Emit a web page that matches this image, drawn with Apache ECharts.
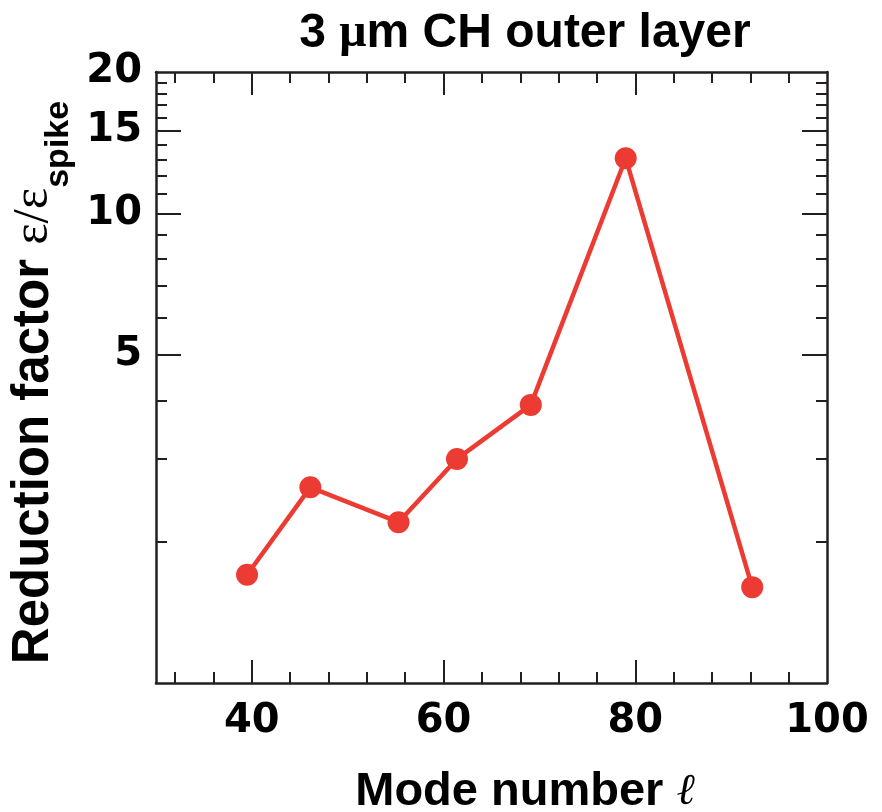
<!DOCTYPE html>
<html>
<head>
<meta charset="utf-8">
<script src="https://cdn.jsdelivr.net/npm/echarts@6/dist/echarts.min.js"></script>
<style>
  html, body { margin: 0; padding: 0; background: #fff; }
  #chart { width: 882px; height: 812px; }
</style>
</head>
<body>
<div id="chart"></div>
<script>
// Reduction factor versus mode number for the 3 um CH outer layer
const modeNumbers = [39.5, 46.1, 55.3, 61.4, 69.1, 79.0, 92.2];
const reductionFactor = [1.70, 2.61, 2.20, 3.00, 3.91, 13.1, 1.60];

// Axis ranges and tick values
const xRange = [30, 100];
const xLabelValues = [40, 60, 80, 100];
const xMajorTicks = [40, 60, 80];
const xMinorTicks = [32, 36, 44, 48, 52, 56, 64, 68, 72, 76, 84, 88, 92, 96];

const yRange = [1, 20];
const yLabelValues = [5, 10, 15, 20];
const yMajorTicks = [5, 10, 15];
const yMinorTicks = [2, 3, 4, 6, 7, 8, 9, 11, 12, 13, 14, 16, 17, 18, 19];

const INK = '#231f20';
const RED = '#ec3b32';
const SANS = 'Liberation Sans';
const SERIF = 'Liberation Serif';

const tickLabelStyle = {
  fontFamily: 'DejaVu Sans', fontWeight: 'bold', fontSize: 40, color: '#000'
};

function xAxisDef(position, ticks, len, withLine, withLabels) {
  return {
    type: 'value', min: xRange[0], max: xRange[1], position: position,
    axisLine: { show: withLine, lineStyle: { color: INK, width: 2.5 } },
    axisTick: { show: true, inside: true, length: len, customValues: ticks,
                lineStyle: { color: INK, width: 2 } },
    axisLabel: withLabels
      ? Object.assign({ show: true, customValues: xLabelValues, margin: 19 }, tickLabelStyle)
      : { show: false },
    splitLine: { show: false }
  };
}

function yAxisDef(position, ticks, len, withLine, withLabels) {
  return {
    type: 'log', logBase: 10, min: yRange[0], max: yRange[1], position: position,
    axisLine: { show: withLine, lineStyle: { color: INK, width: 2.5 } },
    axisTick: { show: true, inside: true, length: len, customValues: ticks,
                lineStyle: { color: INK, width: 2 } },
    axisLabel: withLabels
      ? Object.assign({ show: true, customValues: yLabelValues, margin: 14 }, tickLabelStyle)
      : { show: false },
    splitLine: { show: false }
  };
}

const xMain = xAxisDef('bottom', xMajorTicks, 23, true, true);
xMain.name = '{t|Mode number }{l|\u2113}';
xMain.nameLocation = 'middle';
xMain.nameGap = 86;
xMain.nameTextStyle = {
  padding: [0, 0, 0, 67],
  rich: {
    t: { fontFamily: SANS, fontWeight: 'bold', fontSize: 47, color: '#000' },
    l: { fontFamily: 'DejaVu Serif', fontStyle: 'italic', fontSize: 44, color: '#000' }
  }
};

// y-axis title; the "spike" subscript is lowered with top padding
const yMain = yAxisDef('left', yMajorTicks, 25, true, true);
yMain.name = '{t|Reduction factor }{e|\u03b5/\u03b5}{s|spike}';
yMain.nameLocation = 'middle';
yMain.nameRotate = 90;
yMain.nameGap = 79;
yMain.nameTextStyle = {
  padding: [0, 10, 0, 0],
  rich: {
    t: { fontFamily: SANS, fontWeight: 'bold', fontSize: 51, color: '#000',
         lineHeight: 53, verticalAlign: 'top' },
    e: { fontFamily: SERIF, fontSize: 51, color: '#000',
         lineHeight: 53, verticalAlign: 'top' },
    s: { fontFamily: SANS, fontWeight: 'bold', fontSize: 34, color: '#000',
         lineHeight: 34, padding: [33, 0, 0, 0], verticalAlign: 'top' }
  }
};

const chart = echarts.init(document.getElementById('chart'), null, { renderer: 'canvas' });

chart.setOption({
  animation: false,
  backgroundColor: '#fff',
  title: {
    text: '{t|3 }{mu|\u03bc}{t|m CH outer layer}',
    left: 520, top: 5, textAlign: 'center',
    textStyle: {
      rich: {
        t: { fontFamily: SANS, fontWeight: 'bold', fontSize: 48, color: '#000' },
        mu: { fontFamily: SERIF, fontSize: 48, color: '#000' }
      }
    }
  },
  grid: { left: 156, right: 55, top: 72, bottom: 129, containLabel: false, outerBoundsMode: 'none' },
  xAxis: [
    xMain,
    xAxisDef('bottom', xMinorTicks, 11, false, false),
    xAxisDef('top', xMajorTicks, 23, true, false),
    xAxisDef('top', xMinorTicks, 11, false, false)
  ],
  yAxis: [
    yMain,
    yAxisDef('left', yMinorTicks, 11, false, false),
    yAxisDef('right', yMajorTicks, 25, true, false),
    yAxisDef('right', yMinorTicks, 11, false, false)
  ],
  series: [{
    type: 'line',
    xAxisIndex: 0, yAxisIndex: 0,
    data: modeNumbers.map((m, i) => [m, reductionFactor[i]]),
    symbol: 'circle', symbolSize: 22,
    lineStyle: { color: RED, width: 4.5 },
    itemStyle: { color: RED },
    z: 5
  }]
});
</script>
</body>
</html>
